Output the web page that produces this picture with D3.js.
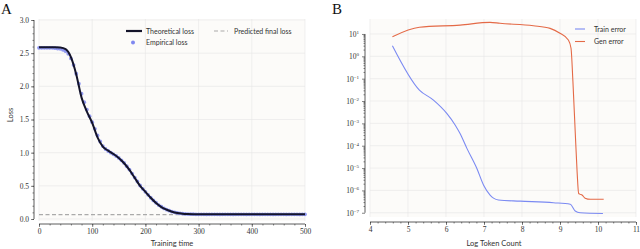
<!DOCTYPE html>
<html>
<head>
<meta charset="utf-8">
<style>
    body { margin: 0; background: #fff; }
    svg { display: block; }
    .tick text { font-family: 'Liberation Serif', serif; font-size: 7.5px; fill: #333; }
    .lab { font-family: Lato, sans-serif; font-size: 7.5px; fill: #333; }
    .leg { font-family: Lato, sans-serif; font-size: 7px; fill: #333; }
    .panel { font-family: 'Liberation Serif', serif; font-size: 15px; fill: #111; }
</style>
</head>
<body>
<svg width="640" height="249"></svg>
<script src="https://d3js.org/d3.v7.min.js"></script>
<script>
    // ---- panel A data
    let theoTime = [0, 10, 20, 30, 40, 50, 60, 70, 80, 90, 100, 110, 120, 130, 140, 150, 160, 170, 180, 190,
        200, 210, 220, 230, 240, 250, 260, 270, 280, 290, 300, 310, 320, 330, 340, 350, 360, 370, 380, 390,
        400, 410, 420, 430, 440, 450, 460, 470, 480, 490, 500]
    let theoLoss = [2.59, 2.59, 2.59, 2.59, 2.585, 2.56, 2.44, 2.18, 1.83, 1.62, 1.45, 1.23, 1.09, 1.03, 0.98,
        0.92, 0.84, 0.74, 0.62, 0.50, 0.41, 0.32, 0.24, 0.18, 0.14, 0.11, 0.09, 0.08, 0.075, 0.072,
        0.07, 0.07, 0.07, 0.07, 0.07, 0.07, 0.07, 0.07, 0.07, 0.07, 0.07, 0.07, 0.07, 0.07, 0.07, 0.07,
        0.07, 0.07, 0.07, 0.07, 0.07]
    let empTime = [0, 5, 10, 15, 20, 25, 30, 35, 40, 45, 50, 55, 60, 65, 70, 75, 80, 85, 90, 95,
        100, 105, 110, 115, 120, 125, 130, 135, 140, 145, 150, 155, 160, 165, 170, 175, 180, 185, 190, 195,
        200, 205, 210, 215, 220, 225, 230, 235, 240, 245, 250, 255, 260, 265, 270, 275, 280, 285, 290, 295,
        300, 305, 310, 315, 320, 325, 330, 335, 340, 345, 350, 355, 360, 365, 370, 375, 380, 385, 390, 395,
        400, 405, 410, 415, 420, 425, 430, 435, 440, 445, 450, 455, 460, 465, 470, 475, 480, 485, 490, 495, 500]
    let empLoss = [2.58, 2.58, 2.58, 2.58, 2.58, 2.58, 2.575, 2.57, 2.565, 2.55, 2.53, 2.49, 2.42, 2.32, 2.19,
        2.04, 1.89, 1.76, 1.65, 1.55, 1.46, 1.36, 1.26, 1.17, 1.10, 1.055, 1.025, 1.00, 0.975, 0.95,
        0.92, 0.885, 0.845, 0.795, 0.745, 0.685, 0.625, 0.565, 0.505, 0.455, 0.41, 0.365, 0.32, 0.28, 0.245,
        0.21, 0.185, 0.16, 0.14, 0.125, 0.11, 0.10, 0.092, 0.085, 0.08, 0.077, 0.075, 0.073, 0.072, 0.071,
        0.07, 0.071, 0.07, 0.069, 0.07, 0.071, 0.07, 0.07, 0.069, 0.07, 0.071, 0.07, 0.07, 0.069, 0.07,
        0.071, 0.07, 0.07, 0.069, 0.07, 0.071, 0.07, 0.07, 0.069, 0.07, 0.071, 0.07, 0.07, 0.069, 0.07,
        0.071, 0.07, 0.07, 0.069, 0.07, 0.071, 0.07, 0.07, 0.069, 0.07, 0.07]
    let predictedFinal = 0.066
    let xTicksA = [0, 100, 200, 300, 400, 500]
    let yTicksA = [0, 0.5, 1.0, 1.5, 2.0, 2.5, 3.0]

    // ---- panel B data
    let trainTokens = [4.59, 5.30, 5.67, 6.02, 6.24, 6.37, 6.55, 6.81, 6.99, 7.16, 7.25, 7.38, 7.95, 8.83, 9.27, 9.40, 9.53, 10.13]
    let trainErr = [3.0, 0.031, 0.011, 0.0028, 0.00085, 0.00035, 7.6e-5, 9.8e-6, 1.7e-6, 6.2e-7, 4.5e-7, 3.7e-7, 3.3e-7, 2.8e-7, 2.4e-7, 1.2e-7, 1.0e-7, 9.3e-8]
    let genTokens = [4.59, 5.30, 6.37, 7.16, 7.42, 8.30, 8.74, 9.00, 9.22, 9.29, 9.34, 9.40, 9.45, 9.49, 9.52, 9.58, 9.66, 9.80, 10.15]
    let genErr = [7.6, 20, 25, 33, 30, 23.4, 17.8, 10.7, 5.4, 2.3, 0.074, 4.3e-4, 6.9e-6, 7.4e-7, 6.8e-7, 6.2e-7, 4.5e-7, 4.0e-7, 4.0e-7]
    let xTicksB = [4, 5, 6, 7, 8, 9, 10, 11]
    let yExpB = [1, 0, -1, -2, -3, -4, -5, -6, -7]

    let svg = d3.select("svg")
    let bg = "#fcfbf9"
    let grid = "#e6e6e6"
    let ink = "#333"

    function styleAxis(g) {
        g.select(".domain").remove()
        g.selectAll(".tick line").style("stroke", ink).style("stroke-width", 0.6)
    }

    // ================= A =================
    let xA = d3.scaleLinear().domain([0, 500]).range([39, 305])
    let yA = d3.scaleLinear().domain([0, 3]).range([219, 20])

    svg.append("rect").attr("x", 39).attr("y", 19).attr("width", 266).attr("height", 202).style("fill", bg)

    svg.append("g").selectAll("line").data(xTicksA).join("line")
        .attr("x1", d => xA(d)).attr("x2", d => xA(d)).attr("y1", 19).attr("y2", 221)
        .style("stroke", grid).style("stroke-width", 0.6)
    svg.append("g").selectAll("line").data(yTicksA).join("line")
        .attr("x1", 39).attr("x2", 305).attr("y1", d => yA(d)).attr("y2", d => yA(d))
        .style("stroke", grid).style("stroke-width", 0.6)

    // axes (despined, offset, trimmed)
    svg.append("g").attr("transform", "translate(34,0)")
        .call(d3.axisLeft(yA).tickValues(d3.range(0, 3.01, 0.1)).tickSize(1.5).tickFormat(""))
        .call(styleAxis)
    svg.append("g").attr("transform", "translate(34,0)")
        .call(d3.axisLeft(yA).tickValues(yTicksA).tickSize(3).tickPadding(2).tickFormat(d3.format(".1f")))
        .call(styleAxis)
    svg.append("line").attr("x1", 34).attr("x2", 34).attr("y1", yA(0)).attr("y2", yA(3))
        .style("stroke", ink).style("stroke-width", 0.8)

    svg.append("g").attr("transform", "translate(0,224)")
        .call(d3.axisBottom(xA).tickValues(d3.range(0, 501, 20)).tickSize(1.5).tickFormat(""))
        .call(styleAxis)
    svg.append("g").attr("transform", "translate(0,224)")
        .call(d3.axisBottom(xA).tickValues(xTicksA).tickSize(3).tickPadding(2).tickFormat(d3.format("d")))
        .call(styleAxis)
    svg.append("line").attr("x1", xA(0)).attr("x2", xA(500)).attr("y1", 224).attr("y2", 224)
        .style("stroke", ink).style("stroke-width", 0.8)

    // predicted final loss
    svg.append("line").attr("x1", 39).attr("x2", 305).attr("y1", yA(predictedFinal)).attr("y2", yA(predictedFinal))
        .style("stroke", "#aaa").style("stroke-width", 1.2).style("stroke-dasharray", "4,2.5")

    // empirical loss
    svg.append("g").selectAll("circle").data(empTime).join("circle")
        .attr("cx", d => xA(d)).attr("cy", (d, i) => yA(empLoss[i])).attr("r", 1.9)
        .style("fill", "#7f88f0").style("fill-opacity", 0.85)

    // theoretical loss
    let lineA = d3.line().x(d => xA(d)).y((d, i) => yA(theoLoss[i])).curve(d3.curveMonotoneX)
    svg.append("path").attr("d", lineA(theoTime))
        .style("fill", "none").style("stroke", "#14142a").style("stroke-width", 2)

    // legend A
    svg.append("line").attr("x1", 126).attr("x2", 142).attr("y1", 31).attr("y2", 31)
        .style("stroke", "#14142a").style("stroke-width", 2.2)
    svg.append("text").attr("class", "leg").attr("x", 146).attr("y", 33.5).text("Theoretical loss")
    svg.append("circle").attr("cx", 133).attr("cy", 42.5).attr("r", 2).style("fill", "#7f88f0")
    svg.append("text").attr("class", "leg").attr("x", 146).attr("y", 45).text("Empirical loss")
    svg.append("line").attr("x1", 214).attr("x2", 228).attr("y1", 31).attr("y2", 31)
        .style("stroke", "#aaa").style("stroke-width", 1.2).style("stroke-dasharray", "4,2.5")
    svg.append("text").attr("class", "leg").attr("x", 234).attr("y", 33.5).text("Predicted final loss")

    svg.append("text").attr("class", "lab").attr("text-anchor", "middle")
        .attr("transform", "translate(13,115) rotate(-90)").text("Loss")
    svg.append("text").attr("class", "lab").attr("text-anchor", "middle")
        .attr("x", 172).attr("y", 246).text("Training time")
    svg.append("text").attr("class", "panel").attr("x", 1).attr("y", 14).text("A")

    // ================= B =================
    let xB = d3.scaleLinear().domain([4, 11]).range([370, 636])
    let yB = d3.scaleLog().domain([Math.pow(10, -7.19), Math.pow(10, 1.67)]).range([217, 19])

    svg.append("rect").attr("x", 370).attr("y", 19).attr("width", 266).attr("height", 198).style("fill", bg)

    svg.append("g").selectAll("line").data(xTicksB).join("line")
        .attr("x1", d => xB(d)).attr("x2", d => xB(d)).attr("y1", 19).attr("y2", 217)
        .style("stroke", grid).style("stroke-width", 0.6)
    svg.append("g").selectAll("line").data(yExpB).join("line")
        .attr("x1", 370).attr("x2", 636).attr("y1", d => yB(Math.pow(10, d))).attr("y2", d => yB(Math.pow(10, d)))
        .style("stroke", grid).style("stroke-width", 0.6)

    let minorB = []
    for (let k = -7; k < 1; k++) {
        for (let m = 2; m <= 9; m++) minorB.push(m * Math.pow(10, k))
    }
    svg.append("g").attr("transform", "translate(365,0)")
        .call(d3.axisLeft(yB).tickValues(minorB).tickSize(1.5).tickFormat(""))
        .call(styleAxis)
    let yAxB = svg.append("g").attr("transform", "translate(365,0)")
        .call(d3.axisLeft(yB).tickValues(yExpB.map(e => Math.pow(10, e))).tickSize(3).tickPadding(3).tickFormat(""))
        .call(styleAxis)
    yAxB.selectAll(".tick").each(function (d) {
        let e = Math.round(Math.log10(d))
        let t = d3.select(this).select("text").attr("dy", "0.32em")
        t.append("tspan").text("10")
        t.append("tspan").attr("dy", "-3").style("font-size", "5px").text(e < 0 ? "\u2212" + (-e) : e)
    })
    svg.append("line").attr("x1", 365).attr("x2", 365).attr("y1", yB(1e-7)).attr("y2", yB(10))
        .style("stroke", ink).style("stroke-width", 0.8)

    svg.append("g").attr("transform", "translate(0,222)")
        .call(d3.axisBottom(xB).tickValues(d3.range(4, 11.01, 0.2)).tickSize(1.5).tickFormat(""))
        .call(styleAxis)
    svg.append("g").attr("transform", "translate(0,222)")
        .call(d3.axisBottom(xB).tickValues(xTicksB).tickSize(3).tickPadding(2).tickFormat(d3.format("d")))
        .call(styleAxis)
    svg.append("line").attr("x1", xB(4)).attr("x2", xB(11)).attr("y1", 222).attr("y2", 222)
        .style("stroke", ink).style("stroke-width", 0.8)

    let trainLine = d3.line().x(d => xB(d)).y((d, i) => yB(trainErr[i])).curve(d3.curveMonotoneX)
    let genLine = d3.line().x(d => xB(d)).y((d, i) => yB(genErr[i])).curve(d3.curveMonotoneX)
    let blue = "#7b8af2"
    let orange = "#e46a47"

    svg.append("path").attr("d", trainLine(trainTokens))
        .style("fill", "none").style("stroke", blue).style("stroke-width", 1.1)
    svg.append("path").attr("d", genLine(genTokens))
        .style("fill", "none").style("stroke", orange).style("stroke-width", 1.1)

    // legend B
    svg.append("line").attr("x1", 575).attr("x2", 585).attr("y1", 29).attr("y2", 29)
        .style("stroke", blue).style("stroke-width", 1.1)
    svg.append("text").attr("class", "leg").attr("x", 594).attr("y", 31.5).text("Train error")
    svg.append("line").attr("x1", 575).attr("x2", 585).attr("y1", 41.5).attr("y2", 41.5)
        .style("stroke", orange).style("stroke-width", 1.1)
    svg.append("text").attr("class", "leg").attr("x", 594).attr("y", 44).text("Gen error")

    svg.append("text").attr("class", "lab").attr("text-anchor", "middle")
        .attr("x", 494).attr("y", 246).text("Log Token Count")
    svg.append("text").attr("class", "panel").attr("x", 332).attr("y", 14).text("B")
</script>
</body>
</html>
